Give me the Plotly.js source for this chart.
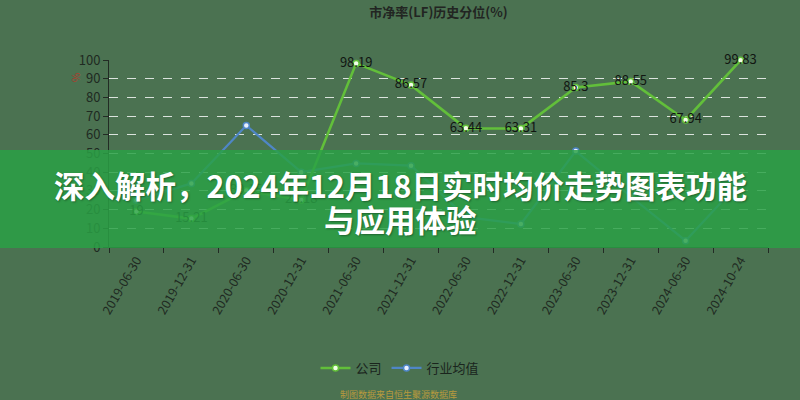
<!DOCTYPE html>
<html>
<head>
<meta charset="utf-8">
<script src="https://cdn.plot.ly/plotly-3.0.1.min.js"></script>
<style>html,body{margin:0;padding:0;background:#4b7251;}#chart{width:800px;height:400px;}</style>
</head>
<body>
<div id="chart"></div>
<script>
const dates = ["2019-06-30","2019-12-31","2020-06-30","2020-12-31","2021-06-30","2021-12-31","2022-06-30","2022-12-31","2023-06-30","2023-12-31","2024-06-30","2024-10-24"];
const company = [19, 15.21, 30.15, 25.18, 98.19, 86.57, 63.44, 63.31, 85.3, 88.55, 67.94, 99.83];
const industry = [25, 34, 65, 40, 44.7, 43.5, 16, 12.3, 51.3, 27, 3.4, 35];
const chartTitle = "市净率(LF)历史分位(%)";
const seriesNames = ["公司", "行业均值"];
const bannerLine1 = "深入解析，2024年12月18日实时均价走势图表功能";
const bannerLine2 = "与应用体验";
const sourceNote = "制图数据来自恒生聚源数据库";

const FONT = "'Noto Sans CJK SC', 'Noto Sans', sans-serif";
const L = 109, R = 32, T = 60, B = 153;
const W = 800, H = 400;
const pw = W - L - R, ph = H - T - B;
const px = x => (x - L) / pw;
const py = y => (H - B - y) / ph;

const traces = [
  {
    x: dates, y: industry, name: seriesNames[1], type: "scatter",
    mode: "lines+markers",
    line: {color: "#4f86c6", width: 2.2},
    marker: {size: 6, color: "#e8f0ff", line: {color: "#4f86c6", width: 1.5}}
  },
  {
    x: dates, y: company, name: seriesNames[0], type: "scatter",
    mode: "lines+markers+text",
    text: company.map(v => String(v)),
    textposition: "middle center",
    textfont: {family: FONT, size: 13, color: "#111611"},
    line: {color: "#62bf3a", width: 2.6},
    marker: {size: 6, color: "#f2ffe8", line: {color: "#62bf3a", width: 1.5}},
    cliponaxis: false
  }
];

const layout = {
  width: W, height: H,
  margin: {l: L, r: R, t: T, b: B},
  paper_bgcolor: "#4b7251",
  plot_bgcolor: "#4b7251",
  font: {family: FONT, color: "#1f2a22", size: 13},
  title: {text: chartTitle, font: {family: FONT, size: 13, color: "#222522", weight: "bold"}, x: 0.5, xref: "paper", xanchor: "center", y: 1 - 12/H, yanchor: "middle"},
  showlegend: true,
  legend: {orientation: "h", x: px(400), xanchor: "center", y: py(368), yanchor: "middle",
           traceorder: "reversed", font: {family: FONT, size: 13, color: "#1a241d"}, bgcolor: "rgba(0,0,0,0)", itemwidth: 30},
  xaxis: {
    type: "category", categoryorder: "array", categoryarray: dates,
    tickson: "boundaries", ticks: "outside", ticklen: 5, tickcolor: "#222b24",
    showline: true, linecolor: "#222b24", linewidth: 1,
    showgrid: false, zeroline: false,
    tickangle: -60, tickfont: {family: FONT, size: 12.5, color: "#1f2a22"},
    range: [-0.5, 11.5]
  },
  yaxis: {
    range: [0, 100], dtick: 10, tick0: 0,
    showline: true, linecolor: "#222b24", linewidth: 1,
    ticks: "outside", ticklen: 5, tickcolor: "#222b24",
    showgrid: true, gridcolor: "rgba(235,240,236,0.9)", griddash: "dash", gridwidth: 1,
    zeroline: false,
    tickfont: {family: FONT, size: 13, color: "#1f2a22"}
  },
  shapes: [
    {type: "rect", xref: "paper", yref: "paper", layer: "above",
     x0: px(0), x1: px(800), y0: py(248), y1: py(150),
     fillcolor: "rgb(42,161,69)", opacity: 0.84, line: {width: 0}}
  ],
  annotations: [
    {xref: "paper", yref: "paper", x: px(400), y: py(185), xanchor: "center", yanchor: "middle",
     text: bannerLine1, showarrow: false,
     font: {family: FONT, size: 30.5, color: "#ffffff", weight: "bold", shadow: "1px 1px 2px rgba(0,0,0,0.35)"}},
    {xref: "paper", yref: "paper", x: px(400), y: py(219), xanchor: "center", yanchor: "middle",
     text: bannerLine2, showarrow: false,
     font: {family: FONT, size: 30.5, color: "#ffffff", weight: "bold", shadow: "1px 1px 2px rgba(0,0,0,0.35)"}},
    {xref: "paper", yref: "paper", x: px(398), y: py(394), xanchor: "center", yanchor: "middle",
     text: sourceNote, showarrow: false,
     font: {family: FONT, size: 9, color: "#b89a3e"}},
    {xref: "paper", yref: "paper", x: px(75), y: py(78), xanchor: "center", yanchor: "middle",
     text: "%", showarrow: false, textangle: -90,
     font: {family: FONT, size: 10, color: "#b23a2a"}}
  ]
};

Plotly.newPlot("chart", traces, layout, {displayModeBar: false, staticPlot: true});
</script>
</body>
</html>
